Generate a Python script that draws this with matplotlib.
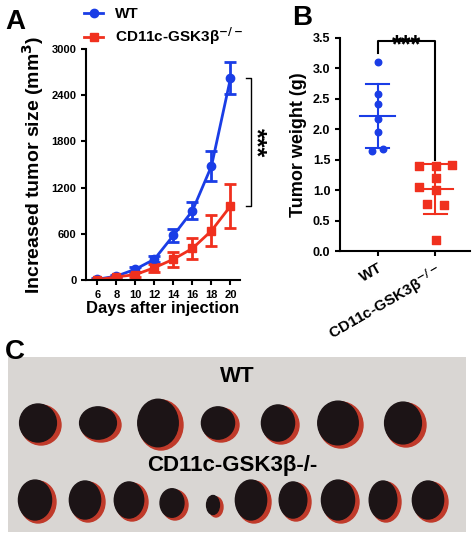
import matplotlib
matplotlib.use("Agg")
import matplotlib.pyplot as plt
from matplotlib.patches import Ellipse
from matplotlib.lines import Line2D
import numpy as np

plt.rcParams['font.family'] = ['Liberation Sans', 'DejaVu Sans']
plt.rcParams['font.weight'] = 'bold'
plt.rcParams['mathtext.default'] = 'bf'

days = [6, 8, 10, 12, 14, 16, 18, 20]
wt_size = [10, 50, 140, 270, 580, 900, 1480, 2620]
wt_err = [10, 20, 30, 40, 80, 110, 190, 210]
ko_size = [5, 40, 70, 160, 270, 410, 640, 960]
ko_err = [5, 15, 30, 50, 100, 140, 200, 290]

wt_weight = [3.1, 2.58, 2.42, 2.17, 1.95, 1.65, 1.68]
ko_weight = [1.42, 1.40, 1.40, 1.20, 1.05, 1.00, 0.78, 0.76, 0.18]
wt_x = [0, 0, 0, 0, 0, -0.1, 0.1]
ko_x = [0.28, -0.28, 0.02, 0.02, -0.28, 0.02, -0.15, 0.15, 0.02]

blue = '#1a3de6'
red = '#f0301e'

fig = plt.figure(figsize=(4.74, 5.41), dpi=100)
W, H = 474, 541
def ax_at(l, t, r, b):
    return fig.add_axes([l / W, 1 - b / H, (r - l) / W, (b - t) / H])

ko_label = 'CD11c-GSK3β$^{-/-}$'

# Panel A
a = ax_at(86, 49, 240, 280)
a.errorbar(days, wt_size, yerr=wt_err, color=blue, marker='o', ms=6, lw=2, capsize=4, capthick=2, elinewidth=2)
a.errorbar(days, ko_size, yerr=ko_err, color=red, marker='s', ms=6, lw=2, capsize=4, capthick=2, elinewidth=2)
a.set_xlim(4.8, 21)
a.set_ylim(0, 3000)
a.set_xticks(days)
a.set_yticks([0, 600, 1200, 1800, 2400, 3000])
a.tick_params(labelsize=8, width=1.5)
for s in ['top', 'right']:
    a.spines[s].set_visible(False)
a.spines['left'].set_linewidth(1.5)
a.spines['bottom'].set_linewidth(1.5)
a.set_xlabel('Days after injection', fontsize=12, fontweight='bold', labelpad=1)
a.set_ylabel('Increased tumor size (mm$^3$)', fontsize=14, fontweight='bold')
handles = [Line2D([], [], color=blue, marker='o', lw=2, ms=6),
           Line2D([], [], color=red, marker='s', lw=2, ms=6)]
a.legend(handles, ['WT', ko_label], loc='lower left', bbox_to_anchor=(-0.02, 1.0), frameon=False,
         fontsize=11, handlelength=1.2, borderpad=0, labelspacing=0.3, borderaxespad=0.1)
a.plot([21.6, 22.2, 22.2, 21.6], [2620, 2620, 960, 960], color='k', lw=1, clip_on=False)
a.text(22.6, 1790, '***', rotation=-90, ha='center', va='center', fontsize=18, fontweight='bold')
fig.text(5 / W, 1 - 22 / H, 'A', fontsize=20, fontweight='bold', va='center')

# Panel B
b = ax_at(340, 38, 470, 251)
b.scatter(wt_x, wt_weight, color=blue, s=22, marker='o', zorder=3)
b.scatter(np.array(ko_x) + 1, ko_weight, color=red, s=26, marker='s', zorder=3)
for i, (vals, c) in enumerate([(wt_weight, blue), (ko_weight, red)]):
    m, sd = np.mean(vals), np.std(vals, ddof=1)
    b.plot([i - 0.3, i + 0.3], [m, m], color=c, lw=1.5)
    b.plot([i - 0.2, i + 0.2], [m + sd, m + sd], color=c, lw=1.5)
    b.plot([i - 0.2, i + 0.2], [m - sd, m - sd], color=c, lw=1.5)
    b.plot([i, i], [m - sd, m + sd], color=c, lw=1.5)
b.set_xlim(-0.65, 1.6)
b.set_ylim(0, 3.5)
b.set_xticks([0, 1])
b.set_xticklabels(['WT', ko_label], rotation=30, ha='right', rotation_mode='anchor', fontsize=11)
b.set_yticks(np.arange(0, 3.6, 0.5))
b.set_yticklabels([f'{v:.1f}' for v in np.arange(0, 3.6, 0.5)])
b.tick_params(axis='y', labelsize=9, width=1.5)
b.tick_params(axis='x', width=1.5)
for s in ['top', 'right']:
    b.spines[s].set_visible(False)
b.spines['left'].set_linewidth(1.5)
b.spines['bottom'].set_linewidth(1.5)
b.set_ylabel('Tumor weight (g)', fontsize=13, fontweight='bold')
b.plot([0, 0, 1, 1], [3.25, 3.45, 3.45, 1.5], color='k', lw=1.5, clip_on=False)
b.text(0.5, 3.38, '***', ha='center', va='center', fontsize=18, fontweight='bold')
fig.text(292 / W, 1 - 18 / H, 'B', fontsize=20, fontweight='bold', va='center')

# Panel C (photo represented schematically)
fig.text(5 / W, 1 - 352 / H, 'C', fontsize=20, fontweight='bold', va='center')
c = ax_at(8, 357, 466, 532)
c.set_facecolor('#d9d6d3')
c.set_xlim(0, 458)
c.set_ylim(175, 0)
c.set_xticks([]); c.set_yticks([])
for s in c.spines.values():
    s.set_visible(False)
c.text(229, 20, 'WT', ha='center', va='center', fontsize=16, fontweight='bold')
c.text(224, 108, 'CD11c-GSK3β-/-', ha='center', va='center', fontsize=16, fontweight='bold')
wt_tum = [(30, 66, 40, 40), (90, 66, 40, 34), (150, 66, 44, 50), (210, 66, 36, 34), (270, 66, 36, 38), (330, 66, 44, 46), (395, 66, 40, 44)]
ko_tum = [(27, 143, 36, 42), (77, 143, 34, 40), (121, 143, 32, 38), (164, 146, 26, 30), (205, 148, 14, 20), (243, 143, 34, 42), (285, 143, 30, 38), (330, 143, 36, 42), (375, 143, 30, 40), (420, 143, 34, 40)]
for (x, y, w, h) in wt_tum + ko_tum:
    c.add_patch(Ellipse((x + 3, y + 2), w, h, color='#c03a2a'))
    c.add_patch(Ellipse((x, y), w * 0.92, h * 0.95, color='#1c1416'))

fig.savefig('out.png', dpi=100)
